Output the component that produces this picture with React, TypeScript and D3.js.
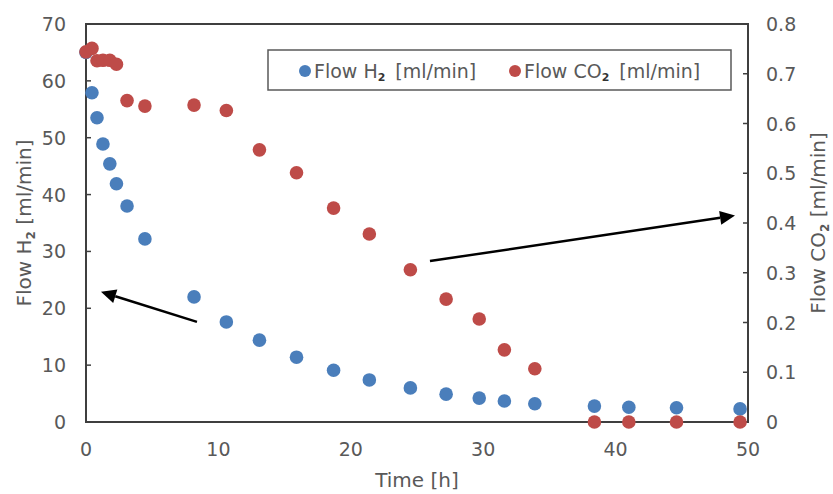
import React from "react";
import * as d3 from "d3";

const timeH = [0, 0.45, 0.83, 1.28, 1.8, 2.3, 3.1, 4.45, 8.16, 10.6, 13.1, 15.9, 18.7, 21.4, 24.5, 27.2, 29.7, 31.6, 33.9, 38.4, 41.0, 44.6, 49.4];
const flowH2 = [65, 57.9, 53.5, 48.9, 45.4, 41.9, 38.0, 32.2, 22.0, 17.6, 14.4, 11.4, 9.1, 7.4, 6.0, 4.9, 4.2, 3.7, 3.2, 2.8, 2.6, 2.5, 2.3];
const flowCO2 = [0.744, 0.751, 0.726, 0.727, 0.727, 0.719, 0.646, 0.635, 0.637, 0.626, 0.547, 0.501, 0.430, 0.378, 0.306, 0.247, 0.207, 0.145, 0.107, 0, 0, 0, 0];

const xTicks = [0, 10, 20, 30, 40, 50];
const yLeftTicks = [0, 10, 20, 30, 40, 50, 60, 70];
const yRightTicks = [0, 0.1, 0.2, 0.3, 0.4, 0.5, 0.6, 0.7, 0.8];

// annotation arrows in data units (x: hours, y: left-axis units)
const arrowLeft = { from: [8.38, 17.6], to: [1.13, 22.9] };
const arrowRight = { from: [25.98, 28.3], to: [49.02, 36.3] };

const BLUE = "#4a7ebb";
const RED = "#be4b48";
const TXT = "#595959";
const AX = "#3f3f3f";
const FONT = "'DejaVu Sans', sans-serif";

function Arrow({ x1, y1, x2, y2 }: { x1: number; y1: number; x2: number; y2: number }) {
  const ang = Math.atan2(y2 - y1, x2 - x1);
  const L = 15, W = 7;
  const bx = x2 - L * Math.cos(ang), by = y2 - L * Math.sin(ang);
  const px = -Math.sin(ang) * W, py = Math.cos(ang) * W;
  return (
    <g>
      <line x1={x1} y1={y1} x2={bx} y2={by} stroke="#000" strokeWidth={2.5} />
      <polygon points={`${x2},${y2} ${bx + px},${by + py} ${bx - px},${by - py}`} fill="#000" />
    </g>
  );
}

export default function App() {
  const x = d3.scaleLinear().domain([0, 50]).range([86, 748]);
  const yL = d3.scaleLinear().domain([0, 70]).range([422, 24]);
  const yR = d3.scaleLinear().domain([0, 0.8]).range([422, 24]);
  const r = 6.8;
  const fmtR = (v: number) => (v === 0 ? "0" : d3.format(".1f")(v));
  return (
    <svg width={833} height={494} style={{ position: "absolute", left: 0, top: 0, background: "#fff" }} fontFamily={FONT}>
      <rect x={0} y={0} width={833} height={494} fill="#fff" />
      {/* plot box */}
      <rect x={x(0)} y={yL(70)} width={x(50) - x(0)} height={yL(0) - yL(70)} fill="none" stroke={AX} strokeWidth={2} />
      {yLeftTicks.map((t) => (
        <g key={"l" + t}>
          <line x1={x(0)} x2={x(0) + 5} y1={yL(t)} y2={yL(t)} stroke={AX} strokeWidth={1.5} />
          <text x={66} y={yL(t) + 7} textAnchor="end" fontSize={19} fill={TXT}>{t}</text>
        </g>
      ))}
      {yRightTicks.map((t) => (
        <g key={"r" + t}>
          <line x1={x(50) - 5} x2={x(50)} y1={yR(t)} y2={yR(t)} stroke={AX} strokeWidth={1.5} />
          <text x={766} y={yR(t) + 7} textAnchor="start" fontSize={19} fill={TXT}>{fmtR(t)}</text>
        </g>
      ))}
      {xTicks.map((t) => (
        <text key={"x" + t} x={x(t)} y={456} textAnchor="middle" fontSize={19} fill={TXT}>{t}</text>
      ))}
      <text x={(x(0) + x(50)) / 2} y={487} textAnchor="middle" fontSize={20} fill={TXT}>Time [h]</text>
      <text transform={`translate(31,${(yL(0) + yL(70)) / 2}) rotate(-90)`} textAnchor="middle" fontSize={20} fill={TXT}>
        Flow H<tspan fontSize={12} fontWeight="bold" dy={4}>2</tspan><tspan dy={-4}> [ml/min]</tspan>
      </text>
      <text transform={`translate(825,${(yL(0) + yL(70)) / 2}) rotate(-90)`} textAnchor="middle" fontSize={20} fill={TXT}>
        Flow CO<tspan fontSize={12} fontWeight="bold" dy={4}>2</tspan><tspan dy={-4}> [ml/min]</tspan>
      </text>
      {timeH.map((t, i) => (
        <circle key={"b" + i} cx={x(t)} cy={yL(flowH2[i])} r={r} fill={BLUE} />
      ))}
      {timeH.map((t, i) => (
        <circle key={"c" + i} cx={x(t)} cy={yR(flowCO2[i])} r={r} fill={RED} />
      ))}
      {/* legend */}
      <rect x={268} y={50} width={463} height={40} fill="#fff" stroke={TXT} strokeWidth={1.5} />
      <circle cx={305} cy={71} r={6} fill={BLUE} />
      <text x={314} y={78} fontSize={19} fill={TXT}>
        Flow H<tspan fontSize={11} fontWeight="bold" fill="#333" dy={3}>2</tspan><tspan dy={-3} dx={10}>[ml/min]</tspan>
      </text>
      <circle cx={515} cy={71} r={6} fill={RED} />
      <text x={524} y={78} fontSize={19} fill={TXT}>
        Flow CO<tspan fontSize={11} fontWeight="bold" fill="#333" dy={3}>2</tspan><tspan dy={-3} dx={10}>[ml/min]</tspan>
      </text>
      <Arrow x1={x(arrowLeft.from[0])} y1={yL(arrowLeft.from[1])} x2={x(arrowLeft.to[0])} y2={yL(arrowLeft.to[1])} />
      <Arrow x1={x(arrowRight.from[0])} y1={yL(arrowRight.from[1])} x2={x(arrowRight.to[0])} y2={yL(arrowRight.to[1])} />
    </svg>
  );
}
